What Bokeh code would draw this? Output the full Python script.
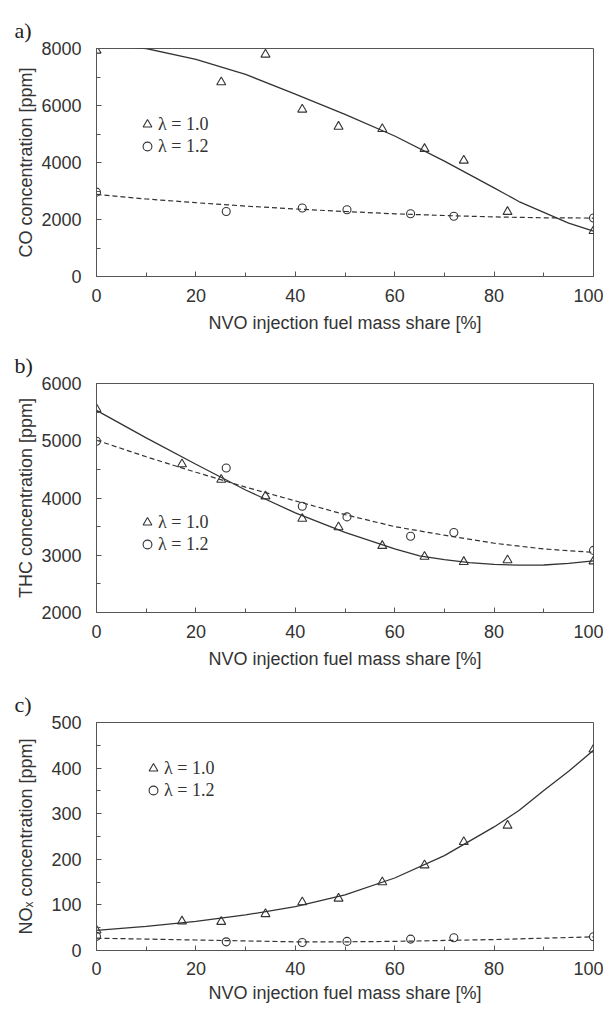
from bokeh.plotting import figure
from bokeh.models import (Range1d, SingleIntervalTicker, Legend, LegendItem)
from bokeh.layouts import column
from bokeh.embed import file_html
from bokeh.resources import INLINE

# ---------------- data ----------------
tri_x = [0, 17.2, 25.1, 34.0, 41.4, 48.7, 57.5, 66.0, 73.9, 82.7, 100]
circ_x = [0, 26.1, 41.4, 50.4, 63.2, 71.9, 100]
co_tri_x = [0, 25.1, 34.0, 41.4, 48.7, 57.5, 66.0, 73.9, 82.7, 100]

co_l10 = [7930, 6820, 7790, 5860, 5260, 5180, 4480, 4070, 2270, 1600]
co_l12 = [2960, 2280, 2405, 2340, 2200, 2115, 2055]
thc_l10 = [5555, 4590, 4320, 4030, 3640, 3490, 3165, 2975, 2885, 2915, 2895]
thc_l12 = [4990, 4525, 3855, 3670, 3333, 3397, 3085]
nox_l10 = [44, 64, 63, 80, 106, 114, 150, 187, 238, 274, 441]
nox_l12 = [31, 19, 17.5, 20, 25, 28, 30]

# trend lines
fit_x = [0, 10, 20, 30, 40, 50, 60, 70, 80, 90, 100]
co_fit_x = [0, 5, 10, 20, 30, 40, 50, 60, 70, 80, 85, 90, 95, 100]
co_fit_l10 = [8110, 8070, 8000, 7620, 7090, 6400, 5690, 4930, 4050, 3110,
              2630, 2250, 1870, 1590]
co_fit_l12 = [2880, 2720, 2590, 2470, 2370, 2280, 2200, 2140, 2090, 2060, 2050]
thc_fit_x = [0, 10, 20, 30, 40, 50, 60, 65, 70, 75, 80, 85, 90, 95, 100]
thc_fit_l10 = [5530, 5050, 4590, 4140, 3740, 3400, 3110, 2990, 2925, 2870,
               2840, 2828, 2830, 2857, 2900]
thc_fit_l12 = [5010, 4720, 4450, 4190, 3950, 3710, 3500, 3350, 3210, 3110, 3050]
nox_fit_x = [0, 10, 20, 30, 40, 50, 60, 70, 80, 85, 90, 95, 100]
nox_fit_l10 = [44, 53, 64, 78, 96, 122, 159, 208, 271, 307, 351, 393, 439]
nox_fit_l12 = [27, 25, 23, 21, 19, 19, 20, 22, 24, 27, 30]

legend_labels = ["λ = 1.0", "λ = 1.2"]
x_label = "NVO injection fuel mass share [%]"

INK = "#333333"
FRAME = "#555555"
SANS = "Liberation Sans"
SERIF = "Liberation Serif"


def make_panel(letter, height, top, bottom, y_lo, y_hi, y_step, ylabel,
               tx, ty, cx, cy, fx1, fy1, fx2, fy2, leg_loc, ylab_standoff,
               xl_standoff, xa_standoff):
    p = figure(width=603, height=height, output_backend="svg",
               toolbar_location=None,
               x_range=Range1d(0, 100), y_range=Range1d(y_lo, y_hi),
               min_border_left=96, min_border_right=10,
               min_border_top=top, min_border_bottom=bottom,
               title=letter)
    p.title.text_font = SERIF
    p.title.text_font_size = "22px"
    p.title.text_font_style = "normal"
    p.title.text_color = "#222222"
    p.title.align = "left"
    p.title.offset = -82
    p.title.standoff = 12

    p.grid.visible = False
    p.outline_line_color = FRAME
    p.outline_line_width = 1
    p.background_fill_color = "white"
    p.border_fill_color = "white"

    p.xaxis.ticker = SingleIntervalTicker(interval=20, num_minor_ticks=2)
    p.yaxis.ticker = SingleIntervalTicker(interval=y_step, num_minor_ticks=2)
    for ax in (p.xaxis, p.yaxis):
        ax.axis_line_color = FRAME
        ax.major_tick_line_color = FRAME
        ax.minor_tick_line_color = FRAME
        ax.major_tick_in = 5
        ax.major_tick_out = 0
        ax.minor_tick_in = 4
        ax.minor_tick_out = 0
        ax.major_label_text_font = SANS
        ax.major_label_text_font_size = "18px"
        ax.major_label_text_color = INK
        ax.axis_label_text_font = SANS
        ax.axis_label_text_font_size = "18px"
        ax.axis_label_text_font_style = "normal"
        ax.axis_label_text_color = INK
    p.xaxis.axis_label = x_label
    p.xaxis.major_label_standoff = xl_standoff
    p.xaxis.axis_label_standoff = xa_standoff
    p.yaxis.axis_label = ylabel
    p.yaxis.major_label_standoff = 15
    p.yaxis.axis_label_standoff = ylab_standoff

    p.line(fx1, fy1, line_color=INK, line_width=1.3)
    p.line(fx2, fy2, line_color=INK, line_width=1.2, line_dash="5 3")
    r1 = p.scatter(tx, ty, marker="triangle", size=9, line_color=INK,
                   line_width=1.1, fill_alpha=0)
    r2 = p.scatter(cx, cy, marker="circle", size=8, line_color=INK,
                   line_width=1.1, fill_alpha=0)

    leg = Legend(items=[LegendItem(label=legend_labels[0], renderers=[r1]),
                        LegendItem(label=legend_labels[1], renderers=[r2])],
                 location=leg_loc, padding=0, margin=0, spacing=0,
                 glyph_width=22, glyph_height=22, label_height=22,
                 label_standoff=0,
                 label_text_font=SERIF, label_text_font_size="18px",
                 label_text_color=INK,
                 background_fill_alpha=0, border_line_alpha=0)
    p.add_layout(leg)
    return p


pa = make_panel("a)", 338, 48, 62, 0, 8000, 2000, "CO concentration [ppm]",
                co_tri_x, co_l10, circ_x, co_l12,
                co_fit_x, co_fit_l10, fit_x, co_fit_l12, (40, 119), 2, 12, 8)
pb = make_panel("b)", 336, 45, 62, 2000, 6000, 1000, "THC concentration [ppm]",
                tri_x, thc_l10, circ_x, thc_l12,
                thc_fit_x, thc_fit_l10, fit_x, thc_fit_l12, (40, 57), 2, 12, 8)
pc = make_panel("c)", 335, 48, 59, 0, 500, 100, "NOₓ concentration [ppm]",
                tri_x, nox_l10, circ_x, nox_l12,
                nox_fit_x, nox_fit_l10, fit_x, nox_fit_l12, (46, 149), 12,
                11, 5)

layout = column(pa, pb, pc, spacing=0)
open("out.html", "w").write(file_html(layout, INLINE))
